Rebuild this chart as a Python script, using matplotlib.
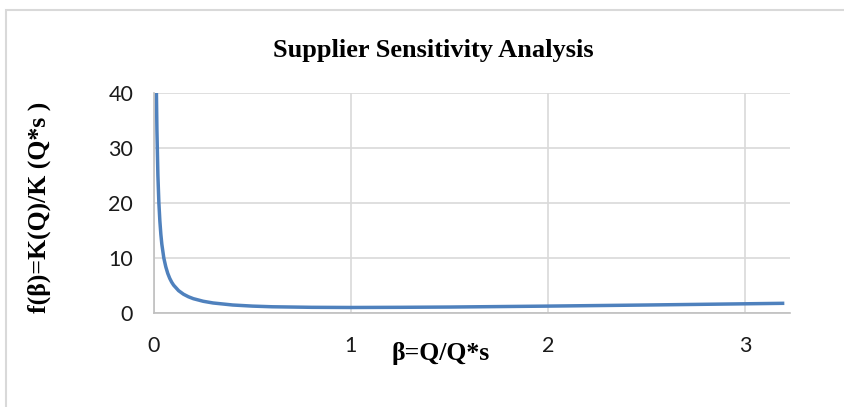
import matplotlib.pyplot as plt
from matplotlib.patches import Rectangle

# Values
beta = [0.0125, 0.015, 0.02, 0.025, 0.03, 0.035, 0.04, 0.05, 0.06, 0.07, 0.08, 0.09,
        0.1, 0.125, 0.15, 0.175, 0.2, 0.25, 0.3, 0.4, 0.5, 0.6, 0.8, 1.0,
        1.25, 1.5, 2.0, 2.5, 3.0, 3.2]
f_beta = [40.0, 33.3, 25.0, 20.0, 16.7, 14.3, 12.5, 10.0, 8.4, 7.2, 6.3, 5.6,
          5.05, 4.06, 3.41, 2.95, 2.6, 2.13, 1.82, 1.45, 1.25, 1.13, 1.03, 1.0,
          1.03, 1.08, 1.25, 1.45, 1.67, 1.76]
x_ticks = [0, 1, 2, 3]
y_ticks = [0, 10, 20, 30, 40]

fig = plt.figure(figsize=(8.45, 4.07), dpi=100)
ax = fig.add_axes([0.1822, 0.231, 0.753, 0.5405])

# outer chart frame
fig.patches.append(Rectangle((0.007, -0.1), 1.2, 0.1 + 1 - 10 / 407, transform=fig.transFigure,
                             fill=False, edgecolor="#d9d9d9", linewidth=1.5))

ax.plot(beta, f_beta, color="#4f81bd", linewidth=2.5, solid_capstyle="butt")

ax.set_xlim(0, 3.23)
ax.set_ylim(0, 40)
ax.set_xticks(x_ticks)
ax.set_yticks(y_ticks)
ax.grid(True, color="#d9d9d9", linewidth=1.2)
ax.set_axisbelow(True)
for side in ["top", "right"]:
    ax.spines[side].set_visible(False)
for side in ["left", "bottom"]:
    ax.spines[side].set_color("#bfbfbf")
    ax.spines[side].set_linewidth(1.2)
ax.tick_params(length=0, labelsize=15.5, labelcolor="#1a1a1a")
ax.tick_params(axis="x", pad=16.5)
ax.tick_params(axis="y", pad=15)
for lab in ax.get_xticklabels() + ax.get_yticklabels():
    lab.set_family("Lato")

fig.text(0.513, 0.877, "Supplier Sensitivity Analysis", ha="center", va="center",
         family="Liberation Serif", weight="bold", fontsize=19)
fig.text(0.047, 0.49, "f(β)=K(Q)/K (Q*s )", ha="center", va="center", rotation=90,
         family="Liberation Serif", weight="bold", fontsize=18.5)
fig.text(0.521, 0.131, "β=Q/Q*s", ha="center", va="center",
         family="Liberation Serif", weight="bold", fontsize=18.5)

plt.savefig("out.png", dpi=100)
